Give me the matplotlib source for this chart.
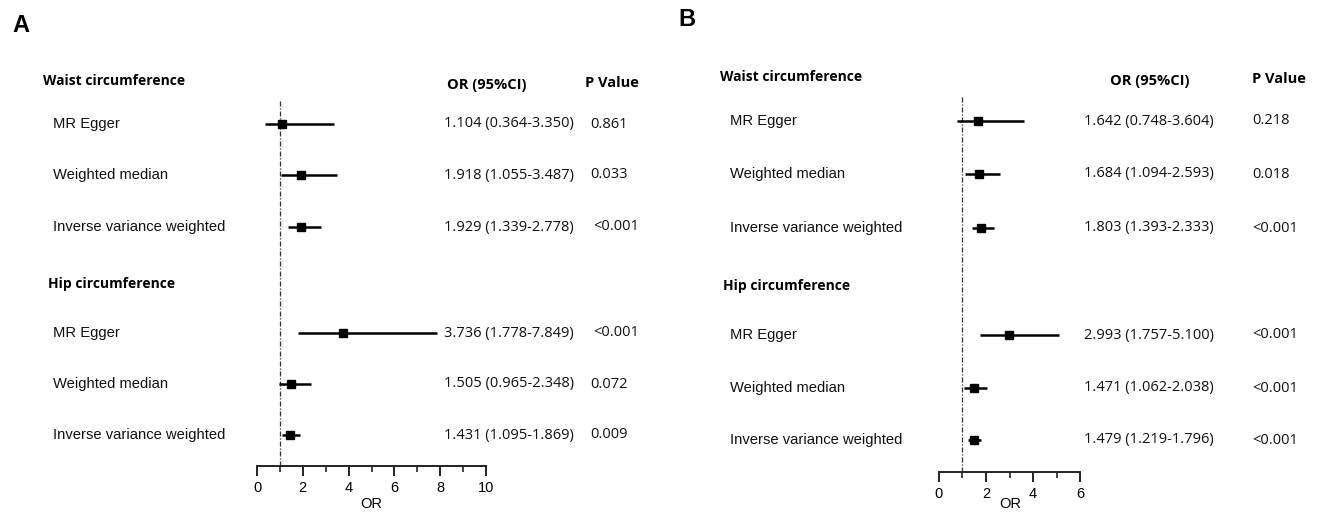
import matplotlib
matplotlib.use("Agg")
import matplotlib.pyplot as plt
from matplotlib.ticker import MultipleLocator

# ---------------- data ----------------
methods = ["MR Egger", "Weighted median", "Inverse variance weighted"]
groups = ["Waist circumference", "Hip circumference"]

# Panel A
a_or = [1.104, 1.918, 1.929, 3.736, 1.505, 1.431]
a_lo = [0.364, 1.055, 1.339, 1.778, 0.965, 1.095]
a_hi = [3.350, 3.487, 2.778, 7.849, 2.348, 1.869]
a_p = ["0.861", "0.033", "<0.001", "<0.001", "0.072", "0.009"]

# Panel B
b_or = [1.642, 1.684, 1.803, 2.993, 1.471, 1.479]
b_lo = [0.748, 1.094, 1.393, 1.757, 1.062, 1.219]
b_hi = [3.604, 2.593, 2.333, 5.100, 2.038, 1.796]
b_p = ["0.218", "0.018", "<0.001", "<0.001", "<0.001", "<0.001"]

a_ticks = [0, 2, 4, 6, 8, 10]
b_ticks = [0, 2, 4, 6]

# ---------------- layout (pixels) ----------------
W, H = 1322, 512
fig = plt.figure(figsize=(W / 100, H / 100), dpi=100)
fig.patch.set_facecolor("white")

LABEL_FONT = "Liberation Sans"
NUM_FONT = "Open Sans"


def fx(px):
    return px / W


def fy(py):
    return 1 - py / H


panels = [
    dict(letter="A", letter_xy=(12, 25), or_=a_or, lo=a_lo, hi=a_hi, p=a_p, ticks=a_ticks,
         ax_x=(257, 486), ax_top=92, ax_bot=466, dash_top=99,
         head_y=(81, 85, 83), group_x=(43, 48), group_y=(81, 284),
         row_x=53, row_y=[124, 175, 227, 333, 384, 435],
         ci_x=444, p_x=590, ci_head_x=447, p_head_x=585, orlab=(371, 504), orva="center"),
    dict(letter="B", letter_xy=(678, 20), or_=b_or, lo=b_lo, hi=b_hi, p=b_p, ticks=b_ticks,
         ax_x=(939, 1080), ax_top=92, ax_bot=472, dash_top=97,
         head_y=(77, 81, 79), group_x=(720, 723), group_y=(77, 286),
         row_x=730, row_y=[121, 174, 228, 335, 388, 440],
         ci_x=1084, p_x=1252, ci_head_x=1110, p_head_x=1252, orlab=(1010, 511), orva="bottom"),
]

for pn in panels:
    x0, x1 = pn["ax_x"]
    ax = fig.add_axes([fx(x0), fy(pn["ax_bot"]), (x1 - x0) / W,
                       (pn["ax_bot"] - pn["ax_top"]) / H])
    ax.set_xlim(pn["ticks"][0], pn["ticks"][-1])
    ax.set_ylim(pn["ax_bot"], pn["ax_top"])
    ax.patch.set_alpha(0)
    for s in ["top", "right", "left"]:
        ax.spines[s].set_visible(False)
    ax.spines["bottom"].set_linewidth(1.4)
    ax.spines["bottom"].set_color("#222222")
    ax.yaxis.set_visible(False)
    ax.set_xticks(pn["ticks"])
    ax.set_xticklabels([str(t) for t in pn["ticks"]], fontsize=10.5, family=LABEL_FONT)
    ax.xaxis.set_minor_locator(MultipleLocator(1))
    ax.tick_params(axis="x", which="major", direction="out", length=7, width=1.4,
                   color="#222222", pad=4)
    ax.tick_params(axis="x", which="minor", direction="out", length=4, width=1.2,
                   color="#222222")

    # reference line at OR = 1
    frac = (pn["ax_bot"] - pn["dash_top"]) / (pn["ax_bot"] - pn["ax_top"])
    ax.axvline(1, ymin=0, ymax=frac, color="#333333", lw=0.9, ls=(0, (4, 1.5, 1, 1.5)))

    # estimates
    ors, los, his = pn["or_"], pn["lo"], pn["hi"]
    xerr = [[o - l for o, l in zip(ors, los)], [h - o for o, h in zip(ors, his)]]
    ax.errorbar(ors, pn["row_y"], xerr=xerr, fmt="s", color="black", ecolor="black",
                elinewidth=1.8, capsize=0, markersize=6, clip_on=False)

    # panel letter
    fig.text(fx(pn["letter_xy"][0]), fy(pn["letter_xy"][1]), pn["letter"],
             fontsize=17, fontweight="bold", family=LABEL_FONT, ha="left", va="center")

    # headers
    hy_group, hy_or, hy_p = pn["head_y"]
    for gi, g in enumerate(groups):
        fig.text(fx(pn["group_x"][gi]), fy(pn["group_y"][gi]), g, fontsize=10,
                 fontweight="bold", family=NUM_FONT, ha="left", va="center")
    fig.text(fx(pn["ci_head_x"]), fy(hy_or), "OR (95%CI)", fontsize=10.5,
             fontweight="bold", family=NUM_FONT, ha="left", va="center")
    fig.text(fx(pn["p_head_x"]), fy(hy_p), "P Value", fontsize=10.5,
             fontweight="bold", family=NUM_FONT, ha="left", va="center")

    # rows
    for i, yy in enumerate(pn["row_y"]):
        m = methods[i % 3]
        fig.text(fx(pn["row_x"]), fy(yy), m, fontsize=10.6, family=LABEL_FONT,
                 ha="left", va="center", color="#111111")
        ci = f"{ors[i]:.3f} ({los[i]:.3f}-{his[i]:.3f})"
        fig.text(fx(pn["ci_x"]), fy(yy), ci, fontsize=10.5, family=NUM_FONT,
                 ha="left", va="center", color="#111111")
        pv = pn["p"][i]
        px = pn["p_x"] + (3 if pv.startswith("<") and pn["letter"] == "A" else 0)
        fig.text(fx(px), fy(yy), pv, fontsize=10.5, family=NUM_FONT,
                 ha="left", va="center", color="#111111")

    fig.text(fx(pn["orlab"][0]), fy(pn["orlab"][1]), "OR", fontsize=10.5,
             family=LABEL_FONT, ha="center", va=pn["orva"])

fig.savefig("out.png", dpi=100, facecolor="white")
